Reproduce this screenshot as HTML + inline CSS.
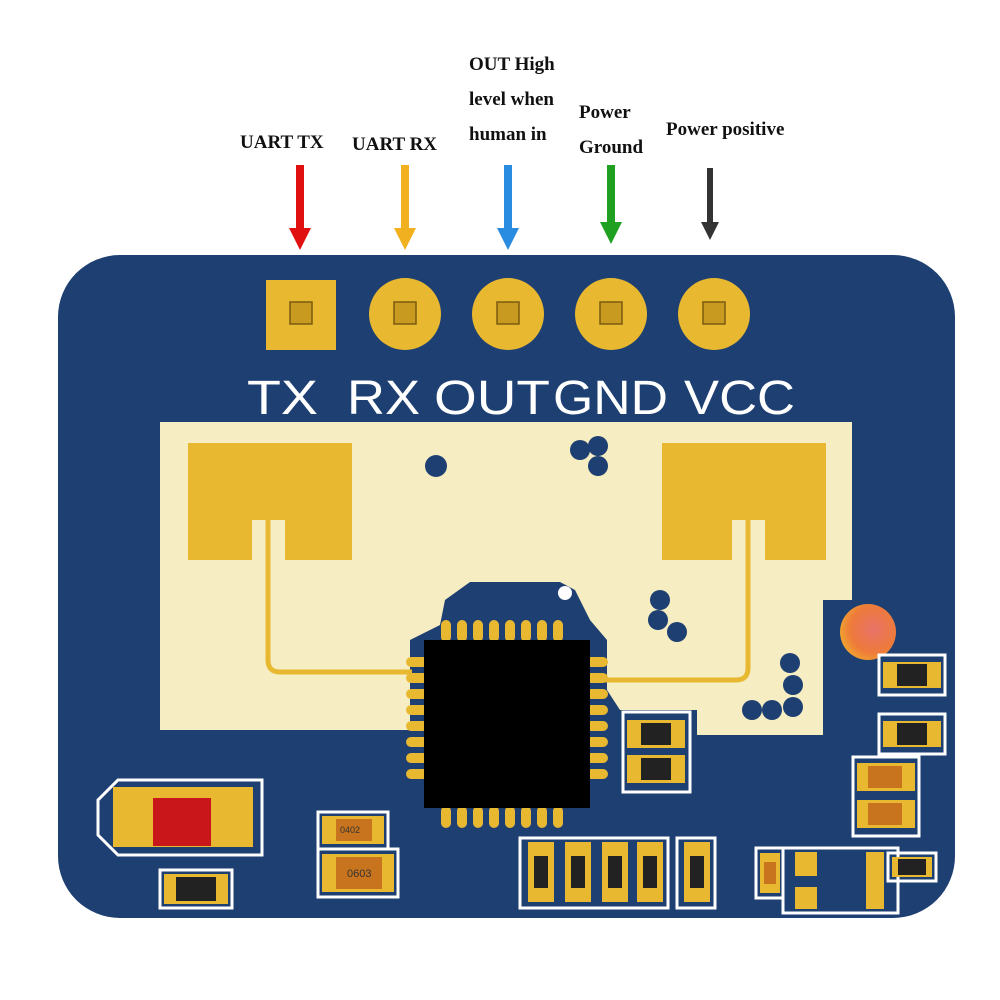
<!DOCTYPE html>
<html><head><style>html,body{margin:0;padding:0;background:#fff}svg{display:block}</style></head>
<body>
<svg width="1000" height="1000" viewBox="0 0 1000 1000" xmlns="http://www.w3.org/2000/svg">
<defs>
<radialGradient id="org" cx="0.6" cy="0.45" r="0.6"><stop offset="0" stop-color="#e8736a"/><stop offset="0.7" stop-color="#ee7a3a"/><stop offset="1" stop-color="#f0a030"/></radialGradient>
</defs>
<g font-family="Liberation Serif, serif" font-weight="bold" font-size="19" fill="#111">
<text x="240" y="148">UART TX</text>
<text x="352" y="150">UART RX</text>
<text x="469" y="70">OUT High</text>
<text x="469" y="105">level when</text>
<text x="469" y="140">human in</text>
<text x="579" y="118">Power</text>
<text x="579" y="153">Ground</text>
<text x="666" y="135">Power positive</text>
</g>
<g>
<path d="M296,165 L304,165 L304,228 L311,228 L300,250 L289,228 L296,228Z" fill="#e01010"/>
<path d="M401,165 L409,165 L409,228 L416,228 L405,250 L394,228 L401,228Z" fill="#f0b020"/>
<path d="M504,165 L512,165 L512,228 L519,228 L508,250 L497,228 L504,228Z" fill="#2a8ce0"/>
<path d="M607,165 L615,165 L615,222 L622,222 L611,244 L600,222 L607,222Z" fill="#20a020"/>
<path d="M707,168 L713,168 L713,222 L719,222 L710,240 L701,222 L707,222Z" fill="#333"/>
</g>
<rect x="58" y="255" width="897" height="663" rx="62" fill="#1e3f72"/>
<path d="M160,422 L852,422 L852,600 L823,600 L823,735 L697,735 L697,710 L620,710 L607,690 L607,640 L590,620 L575,590 L560,582 L470,582 L445,600 L440,625 L410,640 L410,730 L160,730Z" fill="#f6eec2"/>
<path d="M188,443 L352,443 L352,560 L285,560 L285,520 L252,520 L252,560 L188,560Z" fill="#e8b830"/>
<path d="M662,443 L826,443 L826,560 L765,560 L765,520 L732,520 L732,560 L662,560Z" fill="#e8b830"/>
<path d="M268,520 L268,660 Q268,672 280,672 L412,672" fill="none" stroke="#e8b830" stroke-width="5"/>
<path d="M748,520 L748,668 Q748,680 736,680 L600,680" fill="none" stroke="#e8b830" stroke-width="5"/>
<g fill="#1e3f72">
<circle cx="436" cy="466" r="11"/><circle cx="580" cy="450" r="10"/><circle cx="598" cy="446" r="10"/><circle cx="598" cy="466" r="10"/>
<circle cx="660" cy="600" r="10"/><circle cx="658" cy="620" r="10"/><circle cx="677" cy="632" r="10"/>
<circle cx="790" cy="663" r="10"/><circle cx="793" cy="685" r="10"/><circle cx="793" cy="707" r="10"/><circle cx="772" cy="710" r="10"/><circle cx="752" cy="710" r="10"/>
</g>
<circle cx="565" cy="593" r="7" fill="#fff"/>
<circle cx="868" cy="632" r="28" fill="url(#org)"/>
<rect x="266" y="280" width="70" height="70" fill="#e8b830"/>
<g fill="#e8b830"><circle cx="405" cy="314" r="36"/><circle cx="508" cy="314" r="36"/><circle cx="611" cy="314" r="36"/><circle cx="714" cy="314" r="36"/></g>
<g fill="#c99a20" stroke="#7a5a10" stroke-width="1.5">
<rect x="290" y="302" width="22" height="22"/><rect x="394" y="302" width="22" height="22"/><rect x="497" y="302" width="22" height="22"/><rect x="600" y="302" width="22" height="22"/><rect x="703" y="302" width="22" height="22"/>
</g>
<g font-family="Liberation Sans, sans-serif" font-size="48" fill="#fff">
<text x="247" y="414" textLength="71" lengthAdjust="spacingAndGlyphs">TX</text>
<text x="347" y="414" textLength="73" lengthAdjust="spacingAndGlyphs">RX</text>
<text x="434" y="414" textLength="116" lengthAdjust="spacingAndGlyphs">OUT</text>
<text x="553" y="414" textLength="115" lengthAdjust="spacingAndGlyphs">GND</text>
<text x="684" y="414" textLength="111" lengthAdjust="spacingAndGlyphs">VCC</text>
</g>
<g fill="#e8b830">
<rect x="441" y="620" width="10" height="22" rx="5"/><rect x="457" y="620" width="10" height="22" rx="5"/><rect x="473" y="620" width="10" height="22" rx="5"/><rect x="489" y="620" width="10" height="22" rx="5"/><rect x="505" y="620" width="10" height="22" rx="5"/><rect x="521" y="620" width="10" height="22" rx="5"/><rect x="537" y="620" width="10" height="22" rx="5"/><rect x="553" y="620" width="10" height="22" rx="5"/>
<rect x="441" y="806" width="10" height="22" rx="5"/><rect x="457" y="806" width="10" height="22" rx="5"/><rect x="473" y="806" width="10" height="22" rx="5"/><rect x="489" y="806" width="10" height="22" rx="5"/><rect x="505" y="806" width="10" height="22" rx="5"/><rect x="521" y="806" width="10" height="22" rx="5"/><rect x="537" y="806" width="10" height="22" rx="5"/><rect x="553" y="806" width="10" height="22" rx="5"/>
<rect x="406" y="657" width="22" height="10" rx="5"/><rect x="406" y="673" width="22" height="10" rx="5"/><rect x="406" y="689" width="22" height="10" rx="5"/><rect x="406" y="705" width="22" height="10" rx="5"/><rect x="406" y="721" width="22" height="10" rx="5"/><rect x="406" y="737" width="22" height="10" rx="5"/><rect x="406" y="753" width="22" height="10" rx="5"/><rect x="406" y="769" width="22" height="10" rx="5"/>
<rect x="586" y="657" width="22" height="10" rx="5"/><rect x="586" y="673" width="22" height="10" rx="5"/><rect x="586" y="689" width="22" height="10" rx="5"/><rect x="586" y="705" width="22" height="10" rx="5"/><rect x="586" y="721" width="22" height="10" rx="5"/><rect x="586" y="737" width="22" height="10" rx="5"/><rect x="586" y="753" width="22" height="10" rx="5"/><rect x="586" y="769" width="22" height="10" rx="5"/>
</g>
<rect x="424" y="640" width="166" height="168" fill="#000"/>
<g stroke="#fff" stroke-width="3" fill="none">
<rect x="623" y="712" width="67" height="80"/>
<rect x="879" y="655" width="66" height="40"/>
<rect x="879" y="714" width="66" height="40"/>
<rect x="853" y="757" width="66" height="79"/>
<rect x="520" y="838" width="148" height="70"/>
<rect x="677" y="838" width="38" height="70"/>
<rect x="756" y="848" width="27" height="50"/>
<rect x="783" y="848" width="115" height="65"/>
<rect x="888" y="853" width="48" height="28"/>
<rect x="318" y="812" width="70" height="37"/>
<rect x="318" y="849" width="80" height="48"/>
<rect x="160" y="870" width="72" height="38"/>
<path d="M118,780 L262,780 L262,855 L118,855 L98,835 L98,800Z"/>
</g>
<g fill="#e8b830">
<rect x="627" y="720" width="58" height="28"/><rect x="627" y="755" width="58" height="28"/>
<rect x="883" y="662" width="58" height="26"/><rect x="883" y="721" width="58" height="26"/>
<rect x="857" y="763" width="58" height="28"/><rect x="857" y="800" width="58" height="28"/>
<rect x="528" y="842" width="26" height="60"/><rect x="565" y="842" width="26" height="60"/><rect x="602" y="842" width="26" height="60"/><rect x="637" y="842" width="26" height="60"/><rect x="684" y="842" width="26" height="60"/>
<rect x="760" y="853" width="20" height="40"/><rect x="795" y="852" width="22" height="24"/><rect x="795" y="887" width="22" height="22"/><rect x="866" y="852" width="18" height="57"/>
<rect x="892" y="857" width="40" height="20"/>
<rect x="322" y="816" width="62" height="28"/><rect x="322" y="854" width="72" height="38"/>
<rect x="164" y="874" width="64" height="30"/>
<rect x="113" y="787" width="140" height="60"/>
</g>
<g fill="#222">
<rect x="641" y="723" width="30" height="22"/><rect x="641" y="758" width="30" height="22"/>
<rect x="897" y="664" width="30" height="22"/><rect x="897" y="723" width="30" height="22"/>
<rect x="534" y="856" width="14" height="32"/><rect x="571" y="856" width="14" height="32"/><rect x="608" y="856" width="14" height="32"/><rect x="643" y="856" width="14" height="32"/><rect x="690" y="856" width="14" height="32"/>
<rect x="898" y="859" width="28" height="16"/><rect x="176" y="877" width="40" height="24"/>
</g>
<g fill="#c8741e">
<rect x="868" y="766" width="34" height="22"/><rect x="868" y="803" width="34" height="22"/>
<rect x="764" y="862" width="12" height="22"/>
<rect x="336" y="819" width="36" height="22"/><rect x="336" y="857" width="46" height="32"/>
</g>
<rect x="153" y="798" width="58" height="48" fill="#c8161b"/>
<g font-family="Liberation Sans, sans-serif" font-size="9" fill="#333">
<text x="340" y="833">0402</text><text x="347" y="877" font-size="11">0603</text>
</g>
</svg>
</body></html>
